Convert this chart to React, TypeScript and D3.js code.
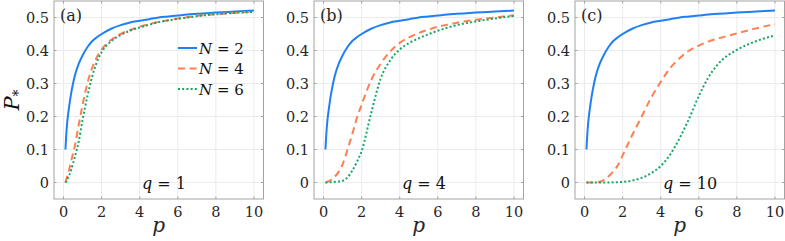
import * as d3 from 'd3';

// sampled p values shared by every curve
const P_GRID = [0.1, 0.15, 0.2, 0.3, 0.4, 0.5, 0.6, 0.8, 1, 1.25, 1.5, 1.75, 2, 2.5, 3, 3.5, 4, 4.5, 5, 5.5, 6, 6.5, 7, 8, 9, 10];

// N = 2 is the same in all three panels
const N2 = [0.1, 0.15, 0.185, 0.232, 0.27, 0.3, 0.325, 0.36, 0.385, 0.41, 0.428, 0.44, 0.45, 0.466, 0.477, 0.485, 0.49, 0.495, 0.5, 0.503, 0.506, 0.509, 0.511, 0.515, 0.518, 0.521];

// q = 1
const A_N4 = [0, 0.01, 0.02, 0.04, 0.065, 0.088, 0.112, 0.175, 0.235, 0.3, 0.347, 0.38, 0.403, 0.432, 0.45, 0.462, 0.472, 0.48, 0.487, 0.492, 0.497, 0.501, 0.505, 0.51, 0.514, 0.518];
const A_N6 = [0, 0.004, 0.01, 0.022, 0.038, 0.058, 0.078, 0.125, 0.19, 0.26, 0.32, 0.365, 0.395, 0.428, 0.447, 0.46, 0.47, 0.478, 0.486, 0.491, 0.496, 0.5, 0.504, 0.51, 0.514, 0.517];

// q = 4
const B_N4 = [0, 0.001, 0.002, 0.005, 0.008, 0.012, 0.018, 0.033, 0.055, 0.098, 0.145, 0.195, 0.236, 0.31, 0.36, 0.397, 0.423, 0.44, 0.453, 0.463, 0.472, 0.478, 0.484, 0.493, 0.5, 0.507];
const B_N6 = [0, 0, 0, 0.0005, 0.001, 0.001, 0.002, 0.003, 0.005, 0.015, 0.035, 0.062, 0.095, 0.21, 0.315, 0.37, 0.403, 0.423, 0.437, 0.449, 0.46, 0.469, 0.477, 0.488, 0.497, 0.505];

// q = 10
const C_N4 = [0, 0, 0, 0, 0, 0.0005, 0.001, 0.002, 0.007, 0.018, 0.033, 0.052, 0.082, 0.143, 0.2, 0.257, 0.305, 0.347, 0.377, 0.4, 0.415, 0.427, 0.436, 0.452, 0.467, 0.48];
const C_N6 = [0, 0, 0, 0, 0, 0, 0, 0, 0, 0, 0.0005, 0.001, 0.002, 0.006, 0.014, 0.028, 0.05, 0.085, 0.135, 0.195, 0.262, 0.318, 0.358, 0.402, 0.428, 0.446];

const X_TICKS = [0, 2, 4, 6, 8, 10];
const Y_TICKS = [0, 0.1, 0.2, 0.3, 0.4, 0.5];
const PANEL_TAGS = ['(a)', '(b)', '(c)'];
const Q_VALUES = ['1', '4', '10'];
const LEGEND_N = ['2', '4', '6'];

const SERIES_STYLE = [
  { color: '#1f80f5', dash: null },
  { color: '#ff7f50', dash: '7,4.5' },
  { color: '#16a765', dash: '2,2.2' },
];

const PANELS = [
  [N2, A_N4, A_N6],
  [N2, B_N4, B_N6],
  [N2, C_N4, C_N6],
];

const W = 785;
const H = 241;
const PANEL_LEFT = [54, 314, 575];
const PANEL_W = 209.5;
const TOP = 1;
const BOTTOM = 199;
const FONT = "'DejaVu Serif', 'Liberation Serif', 'Noto Serif', 'Times New Roman', Tinos, FreeSerif, serif";
const AXIS = '#a3a3a3';
const GRID = '#ebebeb';

function Panel({ idx }: { idx: number }) {
  const left = PANEL_LEFT[idx];
  const x = d3.scaleLinear().domain([-0.5, 10.5]).range([left, left + PANEL_W]);
  const y = d3.scaleLinear().domain([-0.05, 0.55]).range([BOTTOM, TOP]);
  const line = d3
    .line<number>()
    .x((_, i) => x(P_GRID[i]))
    .y((d) => y(d))
    .curve(d3.curveMonotoneX);

  return (
    <g>
      {/* grid */}
      {X_TICKS.map((t) => (
        <line key={'gx' + t} x1={x(t)} x2={x(t)} y1={TOP} y2={BOTTOM} stroke={GRID} strokeWidth={1} />
      ))}
      {Y_TICKS.map((t) => (
        <line key={'gy' + t} x1={left} x2={left + PANEL_W} y1={y(t)} y2={y(t)} stroke={GRID} strokeWidth={1} />
      ))}

      {/* curves */}
      {PANELS[idx].map((vals, s) => (
        <path
          key={'s' + s}
          d={line(vals) || ''}
          fill="none"
          stroke={SERIES_STYLE[s].color}
          strokeWidth={2}
          strokeDasharray={SERIES_STYLE[s].dash || undefined}
        />
      ))}

      {/* box + inward ticks */}
      <rect x={left} y={TOP} width={PANEL_W} height={BOTTOM - TOP} fill="none" stroke={AXIS} strokeWidth={1} />
      {X_TICKS.map((t) => (
        <g key={'tx' + t}>
          <line x1={x(t)} x2={x(t)} y1={BOTTOM} y2={BOTTOM - 2.5} stroke={AXIS} />
          <line x1={x(t)} x2={x(t)} y1={TOP} y2={TOP + 2.5} stroke={AXIS} />
          <text x={x(t)} y={216.5} textAnchor="middle" fontSize={14.5} fill="#262626">
            {t}
          </text>
        </g>
      ))}
      {Y_TICKS.map((t) => (
        <g key={'ty' + t}>
          <line x1={left} x2={left + 2.5} y1={y(t)} y2={y(t)} stroke={AXIS} />
          <line x1={left + PANEL_W} x2={left + PANEL_W - 2.5} y1={y(t)} y2={y(t)} stroke={AXIS} />
          <text x={left - 5} y={y(t) + 5} textAnchor="end" fontSize={14.5} fill="#262626">
            {t === 0 ? '0' : t.toFixed(1)}
          </text>
        </g>
      ))}

      {/* x label */}
      <text x={left + PANEL_W / 2} y={232} textAnchor="middle" fontSize={20} fontStyle="italic" fill="#262626">
        p
      </text>

      {/* panel tag */}
      <text x={left + 6} y={21} fontSize={16} fill="#262626">
        {PANEL_TAGS[idx]}
      </text>

      {/* q annotation */}
      <text x={left + 88} y={188.5} fontSize={16} fill="#111">
        <tspan fontStyle="italic">q</tspan>
        <tspan> = {Q_VALUES[idx]}</tspan>
      </text>

      {/* legend in first panel only */}
      {idx === 0 &&
        LEGEND_N.map((n, s) => {
          const ly = [48, 68.5, 89][s];
          return (
            <g key={'lg' + s}>
              <line
                x1={left + 124}
                x2={left + 143}
                y1={ly}
                y2={ly}
                stroke={SERIES_STYLE[s].color}
                strokeWidth={2}
                strokeDasharray={SERIES_STYLE[s].dash || undefined}
              />
              <text x={left + 145} y={ly + 5.5} fontSize={15} fill="#111">
                <tspan fontStyle="italic">N</tspan>
                <tspan> = {n}</tspan>
              </text>
            </g>
          );
        })}
    </g>
  );
}

export default function App() {
  return (
    <svg
      width={W}
      height={H}
      style={{ position: 'absolute', left: 0, top: 0, background: '#fff', fontFamily: FONT }}
    >
      <rect width={W} height={H} fill="#fff" />
      {[0, 1, 2].map((i) => (
        <Panel key={i} idx={i} />
      ))}
      <text transform="translate(19,100) rotate(-90)" textAnchor="middle" fontSize={21} fontStyle="italic" fill="#111">
        P<tspan fontSize={14} dy={4} fontStyle="normal">*</tspan>
      </text>
    </svg>
  );
}
